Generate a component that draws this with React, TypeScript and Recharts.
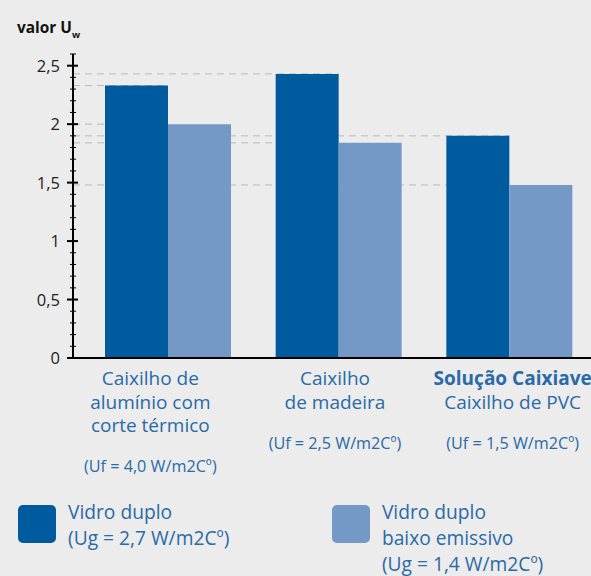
import React from 'react'
import { BarChart, Bar, XAxis, YAxis, ReferenceLine, Legend } from 'recharts'

const categories = ['aluminio', 'madeira', 'pvc']
const categoryLines = [
  ['Caixilho de', 'alumínio com', 'corte térmico'],
  ['Caixilho', 'de madeira'],
  ['Solução Caixiave', 'Caixilho de PVC'],
]
const featuredCategory = [false, false, true]
const ufLabels = ['(Uf = 4,0 W/m2Cº)', '(Uf = 2,5 W/m2Cº)', '(Uf = 1,5 W/m2Cº)']

const duploValues = [2.33, 2.43, 1.9]
const baixoEmissivoValues = [2.0, 1.84, 1.48]

const seriesNames = ['Vidro duplo\n(Ug = 2,7 W/m2Cº)', 'Vidro duplo\nbaixo emissivo\n(Ug = 1,4 W/m2Cº)']

const yTicks = [0, 0.1, 0.2, 0.3, 0.4, 0.5, 0.6, 0.7, 0.8, 0.9, 1, 1.1, 1.2, 1.3, 1.4, 1.5, 1.6, 1.7, 1.8, 1.9, 2, 2.1, 2.2, 2.3, 2.4, 2.5, 2.6]
const yLabeled = [0, 0.5, 1, 1.5, 2, 2.5]

const data = categories.map((c, i) => ({ name: c, duplo: duploValues[i], baixo: baixoEmissivoValues[i] }))

// guide lines run from the axis to the group of the bar they belong to
const guides = [
  ...duploValues.map((v, i) => ({ y: v, cat: categories[i] })),
  ...baixoEmissivoValues.map((v, i) => ({ y: v, cat: categories[i] })),
]

const DARK = '#005a9e'
const LIGHT = '#7499c7'
const TEXT_BLUE = '#2a6aa6'
const FONT = '"Open Sans", "Noto Sans", sans-serif'
const Y_AXIS_W = 73
const labelShift = [-18, -4, 3]

function YTick(props: any) {
  const { x, y, payload } = props
  const v = payload.value
  const major = yLabeled.some((m) => Math.abs(m - v) < 1e-6)
  return (
    <g>
      {major ? (
        <line x1={x - 6} x2={x + 5} y1={y} y2={y} stroke="#000" strokeWidth={2} />
      ) : (
        <line x1={x - 3} x2={x + 3} y1={y} y2={y} stroke="#000" strokeWidth={1} />
      )}
      {major && (
        <text x={x - 13} y={y} dy={6} textAnchor="end" fontSize={16.5} fill="#222" fontFamily={FONT}>
          {String(v).replace('.', ',')}
        </text>
      )}
    </g>
  )
}

function XTick(props: any) {
  const { x, y, index } = props
  const lines = categoryLines[index] || []
  const cx = x + labelShift[index]
  return (
    <g>
      {lines.map((t, k) => (
        <text
          key={k}
          x={cx}
          y={y + 27 + k * 23.5}
          textAnchor="middle"
          fontSize={19}
          fontWeight={featuredCategory[index] && k === 0 ? 700 : 400}
          fill={TEXT_BLUE}
          fontFamily={FONT}
        >
          {t}
        </text>
      ))}
      <text
        x={cx}
        y={y + 27 + (lines.length - 1) * 23.5 + 40}
        textAnchor="middle"
        fontSize={16.2}
        fill={TEXT_BLUE}
        fontFamily={FONT}
      >
        {ufLabels[index]}
      </text>
    </g>
  )
}

function GuideLine(props: any) {
  const { y1, x2 } = props
  if (y1 == null || x2 == null) return null
  return <line x1={Y_AXIS_W} y1={y1} x2={x2} y2={y1} stroke="#b9b9b9" strokeWidth={1} strokeDasharray="7 5" />
}

function LegendContent(props: any) {
  const items = props.payload || []
  return (
    <div style={{ display: 'flex', fontFamily: FONT, fontSize: 19.2, lineHeight: '26px', color: TEXT_BLUE }}>
      {items.map((it: any, i: number) => (
        <div key={i} style={{ display: 'flex', width: i === 0 ? 315 : 260, paddingLeft: i === 0 ? 18 : 0 }}>
          <div style={{ width: 38, height: 38, borderRadius: 5, background: it.color, marginTop: 6, marginRight: 12, flex: 'none' }} />
          <div style={{ whiteSpace: 'pre-line' }}>{it.value}</div>
        </div>
      ))}
    </div>
  )
}

export default function App() {
  return (
    <div style={{ position: 'absolute', left: 0, top: 0, width: 591, height: 576, background: '#ececec', overflow: 'hidden' }}>
      <div style={{ position: 'absolute', left: 17, top: 17, fontFamily: FONT, fontWeight: 700, fontSize: 15.4, color: '#111' }}>
        valor U<sub style={{ fontSize: 9.5, verticalAlign: -5 }}>w</sub>
      </div>
      <BarChart
        width={595}
        height={576}
        data={data}
        margin={{ top: 54, right: 0, bottom: 188, left: 0 }}
        barGap={0}
        barSize={63}
      >
        <XAxis
          dataKey="name"
          height={30}
          padding={{ left: 10, right: 0 }}
          axisLine={{ stroke: '#000', strokeWidth: 2 }}
          tickLine={false}
          tickSize={0}
          tickMargin={0}
          tick={<XTick />}
          interval={0}
        />
        <YAxis
          width={Y_AXIS_W}
          domain={[0, 2.6]}
          ticks={yTicks}
          interval={0}
          axisLine={{ stroke: '#000', strokeWidth: 2 }}
          tickLine={false}
          tickSize={0}
          tickMargin={0}
          tick={<YTick />}
          allowDataOverflow
        />
        {guides.map((g, i) => (
          <ReferenceLine
            key={i}
            segment={[{ x: categories[0], y: g.y }, { x: g.cat, y: g.y }]}
            shape={<GuideLine />}
            zIndex={-10}
          />
        ))}
        <Bar dataKey="duplo" name={seriesNames[0]} fill={DARK} isAnimationActive={false} />
        <Bar dataKey="baixo" name={seriesNames[1]} fill={LIGHT} isAnimationActive={false} />
        <Legend
          layout="horizontal"
          verticalAlign="middle"
          align="center"
          wrapperStyle={{ left: 0, top: 499, width: 591 }}
          content={<LegendContent />}
        />
      </BarChart>
    </div>
  )
}
